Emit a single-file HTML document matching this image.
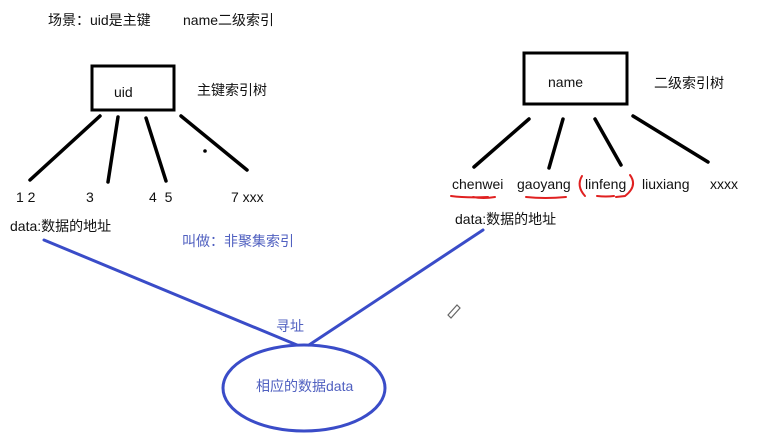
<!DOCTYPE html>
<html><head><meta charset="utf-8"><style>
html,body{margin:0;padding:0;background:#fff;width:770px;height:444px;overflow:hidden}
svg text{font-family:"Liberation Sans","Noto Sans CJK SC",sans-serif;font-size:14px;fill:#111}
svg text.b{fill:#5060c0}
</style></head><body>
<svg width="770" height="444" viewBox="0 0 770 444" xmlns="http://www.w3.org/2000/svg">
<text x="48" y="25">场景：uid是主键</text>
<text x="183" y="25">name二级索引</text>
<rect x="92" y="66" width="82" height="44" fill="none" stroke="#000" stroke-width="3"/>
<text x="114" y="97">uid</text>
<text x="197" y="95">主键索引树</text>
<g stroke="#000" stroke-width="3.5" stroke-linecap="round">
<line x1="100" y1="116" x2="30" y2="180"/>
<line x1="118" y1="117" x2="108" y2="182"/>
<line x1="146" y1="118" x2="166" y2="181"/>
<line x1="181" y1="116" x2="247" y2="170"/>
<line x1="529" y1="119" x2="474" y2="167"/>
<line x1="563" y1="119" x2="549" y2="168"/>
<line x1="595" y1="119" x2="621" y2="165"/>
<line x1="633" y1="116" x2="708" y2="162"/>
</g>
<circle cx="205" cy="151" r="1.8" fill="#000"/>
<text x="16" y="202">1 2</text>
<text x="86" y="202">3</text>
<text x="149" y="202">4&#160;&#160;5</text>
<text x="231" y="202">7 xxx</text>
<text x="10" y="231">data:数据的地址</text>
<text class="b" x="182" y="246">叫做：非聚集索引</text>
<rect x="524" y="53" width="103" height="51" fill="none" stroke="#000" stroke-width="3"/>
<text x="548" y="87">name</text>
<text x="654" y="88">二级索引树</text>
<text x="452" y="189">chenwei</text>
<text x="517" y="189">gaoyang</text>
<text x="585" y="189">linfeng</text>
<text x="642" y="189">liuxiang</text>
<text x="710" y="189">xxxx</text>
<g stroke="#e02020" stroke-width="2" fill="none" stroke-linecap="round">
<path d="M451 196 Q466 198 488 197 M473 197 Q483 199 495 197"/>
<path d="M526 197 Q545 199 566 197"/>
<path d="M582 176 Q576 186 585 196"/>
<path d="M630 175 Q638 186 625 196 L616 197"/>
<path d="M597 196 Q606 197 614 196"/>
</g>
<text x="455" y="224">data:数据的地址</text>
<g stroke="#3a4cc8" stroke-width="3" fill="none" stroke-linecap="round">
<line x1="44" y1="240" x2="297" y2="345"/>
<line x1="483" y1="230" x2="309" y2="345"/>
<ellipse cx="304" cy="388" rx="81" ry="43"/>
</g>
<text class="b" x="276" y="331">寻址</text>
<text class="b" x="256" y="391">相应的数据data</text>
<g stroke="#666" stroke-width="1.2" fill="none">
<path d="M448 315 L457 305 L460 308 L451 318 Z"/>
</g>
</svg>
</body></html>
